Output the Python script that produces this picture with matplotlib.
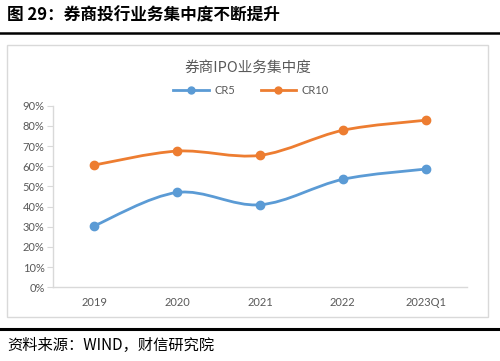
import matplotlib.pyplot as plt
from matplotlib.path import Path
from matplotlib.patches import PathPatch, Rectangle
from matplotlib.lines import Line2D
import numpy as np

plt.rcParams['font.family'] = ['Noto Sans CJK SC', 'DejaVu Sans']

categories = ['2019', '2020', '2021', '2022', '2023Q1']
cr5 = [30.5, 47.0, 40.9, 53.5, 58.6]
cr10 = [60.6, 67.5, 65.4, 77.8, 82.8]

blue = '#5B9BD5'
orange = '#ED7D31'
gray_text = '#595959'
axis_gray = '#D9D9D9'


def smooth_path(xs, ys):
    # Excel-like smoothed line: Catmull-Rom converted to cubic Bezier
    pts = np.column_stack([xs, ys]).astype(float)
    verts = [pts[0]]
    codes = [Path.MOVETO]
    n = len(pts)
    for i in range(n - 1):
        p0 = pts[max(i - 1, 0)]
        p1 = pts[i]
        p2 = pts[i + 1]
        p3 = pts[min(i + 2, n - 1)]
        c1 = p1 + (p2 - p0) / 6
        c2 = p2 - (p3 - p1) / 6
        verts += [c1, c2, p2]
        codes += [Path.CURVE4] * 3
    return Path(verts, codes)


fig = plt.figure(figsize=(5, 3.61), dpi=100)

# figure header / footer
fig.text(0.014, 0.958, '图 29：券商投行业务集中度不断提升', fontsize=12,
         fontweight='bold', va='center', ha='left', color='black')
fig.add_artist(Line2D([0, 1], [0.908, 0.908], color='black', lw=1.8,
                      transform=fig.transFigure))
fig.add_artist(Line2D([0, 1], [0.088, 0.088], color='black', lw=2.2,
                      transform=fig.transFigure))
fig.text(0.014, 0.044, '资料来源：WIND，财信研究院', fontsize=11,
         style='italic', va='center', ha='left', color='black')

# chart frame
fig.add_artist(Rectangle((0.014, 0.122), 0.962, 0.753, fill=False,
                         edgecolor=axis_gray, lw=1.0,
                         transform=fig.transFigure))

ax = fig.add_axes([0.106, 0.2042, 0.828, 0.503])
x = np.arange(len(categories))

for ys, c, lab in [(cr5, blue, 'CR5'), (cr10, orange, 'CR10')]:
    ax.add_patch(PathPatch(smooth_path(x, ys), facecolor='none',
                           edgecolor=c, lw=2.0, zorder=2))
    ax.plot(x, ys, linestyle='none', marker='o', markersize=6,
            color=c, zorder=3)

ax.set_xlim(-0.5, len(categories) - 0.5)
ax.set_ylim(0, 90)
ax.set_xticks(x)
ax.set_xticklabels(categories, fontsize=8, color=gray_text, family='Lato')
ax.set_yticks(np.arange(0, 91, 10))
ax.set_yticklabels([f'{v}%' for v in range(0, 91, 10)], fontsize=8,
                   color=gray_text, family='Lato')
ax.tick_params(axis='x', length=0, pad=7)
ax.tick_params(axis='y', length=4, color=axis_gray, pad=2)
for s in ['top', 'right']:
    ax.spines[s].set_visible(False)
for s in ['left', 'bottom']:
    ax.spines[s].set_color(axis_gray)
    ax.spines[s].set_linewidth(1.0)

fig.text(0.496, 0.812, '券商IPO业务集中度', fontsize=10.5, color=gray_text,
         ha='center', va='center')

handles = [Line2D([], [], color=blue, lw=2, marker='o', markersize=5),
           Line2D([], [], color=orange, lw=2, marker='o', markersize=5)]
fig.legend(handles, ['CR5', 'CR10'], loc='center', bbox_to_anchor=(0.502, 0.75),
           ncol=2, frameon=False, handlelength=3.2, columnspacing=2.3,
           prop={'family': 'Lato', 'size': 8}, labelcolor=gray_text,
           handletextpad=0.5)

fig.savefig('out.png', dpi=100)
